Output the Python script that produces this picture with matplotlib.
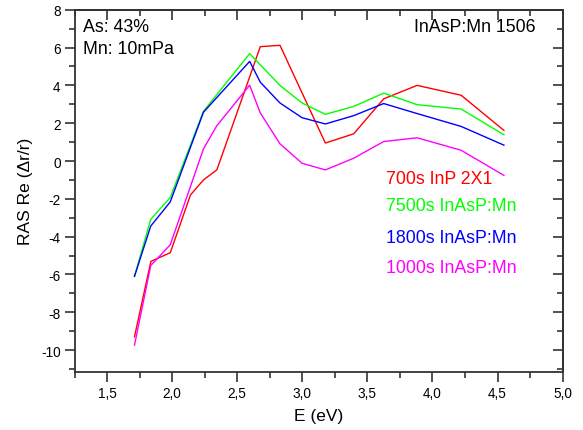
import matplotlib
matplotlib.use("Agg")
import matplotlib.pyplot as plt
from matplotlib.ticker import MultipleLocator, FuncFormatter

plt.rcParams['font.family'] = ['Liberation Sans', 'DejaVu Sans']
plt.rcParams['axes.unicode_minus'] = False

# Photon energy (eV) and RAS signal for each sample
e_red = [1.71, 1.836, 1.985, 2.14, 2.24, 2.343, 2.677, 2.828, 3.177, 3.395, 3.625, 3.882, 4.22, 4.549]
ras_red = [-9.3, -5.31, -4.85, -1.8, -1.0, -0.47, 6.05, 6.12, 0.95, 1.44, 3.29, 4.0, 3.48, 1.62]

e_green = [1.71, 1.835, 1.985, 2.24, 2.595, 2.828, 2.998, 3.177, 3.395, 3.625, 3.882, 4.22, 4.549]
ras_green = [-6.1, -3.08, -1.93, 2.63, 5.68, 4.0, 3.07, 2.47, 2.89, 3.59, 2.98, 2.75, 1.39]

e_blue = [1.71, 1.835, 1.985, 2.24, 2.595, 2.677, 2.828, 2.998, 3.177, 3.395, 3.625, 3.882, 4.22, 4.549]
ras_blue = [-6.1, -3.44, -2.16, 2.58, 5.27, 4.17, 3.07, 2.29, 1.96, 2.40, 3.04, 2.51, 1.83, 0.84]

e_magenta = [1.71, 1.835, 1.985, 2.24, 2.343, 2.595, 2.677, 2.828, 2.998, 3.177, 3.395, 3.625, 3.882, 4.22, 4.549]
ras_magenta = [-9.74, -5.53, -4.43, 0.64, 1.87, 4.01, 2.54, 0.91, -0.12, -0.47, 0.15, 1.03, 1.23, 0.57, -0.76]

labels = ["700s InP 2X1", "7500s InAsP:Mn", "1800s InAsP:Mn", "1000s InAsP:Mn"]
colors = ["#ff0000", "#00ff00", "#0000ff", "#ff00ff"]

fig = plt.figure(figsize=(5.83, 4.31), dpi=100)
ax = fig.add_axes([0.128, 0.135, 0.837, 0.84])

series = [(e_red, ras_red), (e_green, ras_green), (e_blue, ras_blue), (e_magenta, ras_magenta)]
for (x, y), c in zip(series, colors):
    ax.plot(x, y, color=c, lw=1.0)

ax.set_xlim(1.25, 5.0)
ax.set_ylim(-11.15, 8)

spine_col = "#333333"
for s in ax.spines.values():
    s.set_linewidth(1.3)
    s.set_color(spine_col)

ax.xaxis.set_major_locator(MultipleLocator(0.5))
ax.xaxis.set_minor_locator(MultipleLocator(0.25))
ax.yaxis.set_major_locator(MultipleLocator(2))
ax.yaxis.set_minor_locator(MultipleLocator(1))
ax.xaxis.set_major_formatter(FuncFormatter(lambda v, p: f"{v:.1f}".replace(".", ",")))
ax.yaxis.set_major_formatter(FuncFormatter(lambda v, p: f"{int(round(v))}"))

ax.tick_params(which='major', direction='out', length=7, width=1.2, color=spine_col,
               labelsize=9.8, top=False, right=False, pad=3)
ax.tick_params(which='minor', direction='out', length=4, width=1.2, color=spine_col,
               top=False, right=False)

# Inward ticks on the top and right edges
top = ax.secondary_xaxis('top')
top.xaxis.set_major_locator(MultipleLocator(0.5))
top.xaxis.set_minor_locator(MultipleLocator(0.25))
top.tick_params(which='major', direction='in', length=7, width=1.2, color=spine_col, labeltop=False)
top.tick_params(which='minor', direction='in', length=4, width=1.2, color=spine_col)
top.spines['top'].set_linewidth(1.3)
top.spines['top'].set_color(spine_col)

right = ax.secondary_yaxis('right')
right.yaxis.set_major_locator(MultipleLocator(2))
right.yaxis.set_minor_locator(MultipleLocator(1))
right.tick_params(which='major', direction='in', length=7, width=1.2, color=spine_col, labelright=False)
right.tick_params(which='minor', direction='in', length=4, width=1.2, color=spine_col)
right.spines['right'].set_linewidth(1.3)
right.spines['right'].set_color(spine_col)

ax.set_xlabel("E (eV)", fontsize=12.5, labelpad=6)
ax.set_ylabel("RAS Re (\u0394r/r)", fontsize=12.5, labelpad=6)

ax.text(0.018, 0.955, "As: 43%", transform=ax.transAxes, fontsize=12.8, va='center', ha='left')
ax.text(0.018, 0.893, "Mn: 10mPa", transform=ax.transAxes, fontsize=12.8, va='center', ha='left')
ax.text(0.945, 0.955, "InAsP:Mn 1506", transform=ax.transAxes, fontsize=12.8, va='center', ha='right')

legend_y = [0.534, 0.459, 0.370, 0.288]
for lab, c, yy in zip(labels, colors, legend_y):
    ax.text(0.638, yy, lab, color=c, transform=ax.transAxes, fontsize=12.8, va='center', ha='left')

fig.savefig("out.png", dpi=100)
